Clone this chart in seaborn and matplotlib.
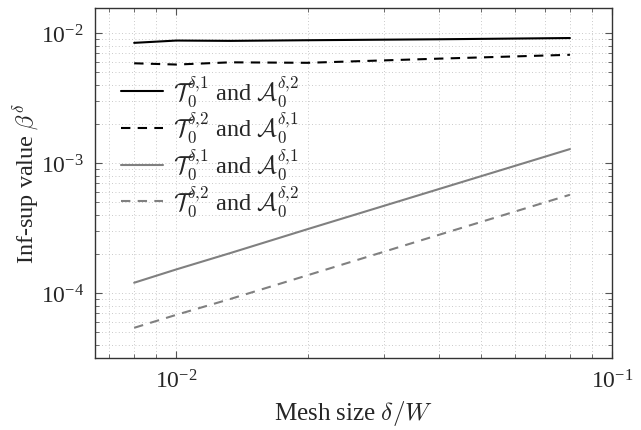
import numpy as np
import pandas as pd
import matplotlib
matplotlib.use("Agg")
import matplotlib.pyplot as plt
import seaborn as sns
from matplotlib.ticker import LogLocator, NullFormatter

# mesh sizes delta/W
mesh = [0.008, 0.01, 0.0133, 0.02, 0.04, 0.08]

# inf-sup values for the four pairings
t1_a2 = [8.4e-3, 8.75e-3, 8.7e-3, 8.8e-3, 8.95e-3, 9.15e-3]
t2_a1 = [5.85e-3, 5.72e-3, 5.95e-3, 5.9e-3, 6.35e-3, 6.8e-3]
t1_a1 = [1.2e-4, 1.52e-4, 2.03e-4, 3.1e-4, 6.3e-4, 1.28e-3]
t2_a2 = [5.4e-5, 6.8e-5, 9.0e-5, 1.37e-4, 2.8e-4, 5.7e-4]

labels = [r"$\mathcal{T}_0^{\delta{,}1}$ and $\mathcal{A}_0^{\delta{,}2}$",
          r"$\mathcal{T}_0^{\delta{,}2}$ and $\mathcal{A}_0^{\delta{,}1}$",
          r"$\mathcal{T}_0^{\delta{,}1}$ and $\mathcal{A}_0^{\delta{,}1}$",
          r"$\mathcal{T}_0^{\delta{,}2}$ and $\mathcal{A}_0^{\delta{,}2}$"]

sns.set_style("ticks")
plt.rcParams["font.family"] = ["Liberation Serif", "DejaVu Serif"]
plt.rcParams["mathtext.fontset"] = "cm"

fig = plt.figure(figsize=(6.41, 4.31), dpi=100)
ax = fig.add_axes([0.148, 0.167, 0.807, 0.812])

series = [t1_a2, t2_a1, t1_a1, t2_a2]
colors = ["black", "black", "#808080", "#808080"]
styles = ["-", (0, (4.5, 3.5)), "-", (0, (4.5, 3.5))]
for vals, lab, c, ls in zip(series, labels, colors, styles):
    df = pd.DataFrame({"mesh": mesh, "beta": vals})
    sns.lineplot(data=df, x="mesh", y="beta", ax=ax, color=c, linestyle=ls,
                 linewidth=1.5, label=lab)

ax.set_xscale("log")
ax.set_yscale("log")
ax.set_xlim(0.0065, 0.1)
ax.set_ylim(10**-4.5, 10**-1.808)

ax.xaxis.set_major_locator(LogLocator(base=10, numticks=10))
ax.xaxis.set_minor_locator(LogLocator(base=10, subs=np.arange(2, 10), numticks=20))
ax.yaxis.set_major_locator(LogLocator(base=10, numticks=10))
ax.yaxis.set_minor_locator(LogLocator(base=10, subs=np.arange(2, 10), numticks=20))
ax.xaxis.set_minor_formatter(NullFormatter())
ax.yaxis.set_minor_formatter(NullFormatter())

ax.grid(True, which="both", linestyle=(0, (1, 3)), color="#b8b8b8", linewidth=0.6)
ax.tick_params(which="both", direction="in", top=True, right=True, labelsize=17,
               color="#555555")
ax.tick_params(which="major", length=5, width=0.8, pad=8)
ax.tick_params(which="minor", length=3, width=0.6)
for s in ax.spines.values():
    s.set_linewidth(1.0)
    s.set_color("#333333")

ax.set_xlabel(r"Mesh size $\delta/W$", fontsize=18, labelpad=4)
ax.set_ylabel(r"Inf-sup value $\beta^\delta$", fontsize=17.5, labelpad=0)

ax.legend(loc="upper left", bbox_to_anchor=(0.012, 0.869), frameon=False, fontsize=17.5,
          handlelength=1.75, labelspacing=0.1, handletextpad=0.4, borderaxespad=0.4)

fig.savefig("out.png", dpi=100)
